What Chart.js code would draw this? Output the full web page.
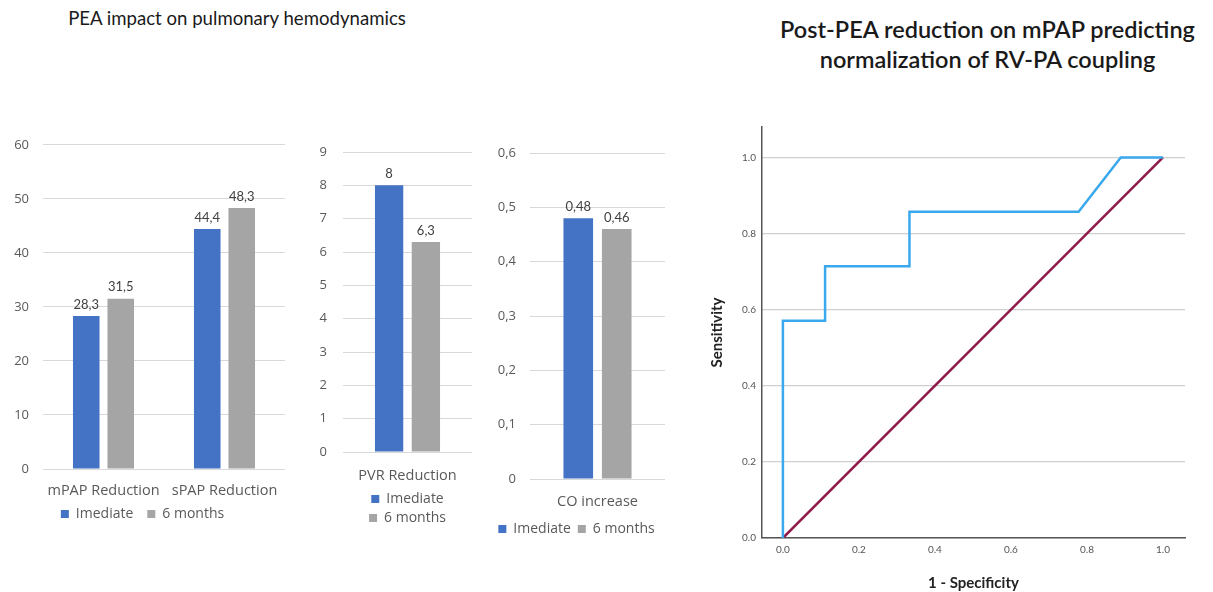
<!DOCTYPE html>
<html>
<head>
<meta charset="utf-8">
<script src="https://cdn.jsdelivr.net/npm/chart.js@4.4.0/dist/chart.umd.min.js"></script>
<style>
  html, body { margin: 0; padding: 0; background: #ffffff; }
  body { width: 1213px; height: 592px; position: relative; overflow: hidden; font-family: Lato, "Open Sans", sans-serif; }
  .box { position: absolute; }
  .title { position: absolute; color: #1a1a1a; text-align: center; white-space: nowrap; }
</style>
</head>
<body>
<div class="title" id="t1" style="left:37px; top:3px; width:400px; font-size:18.6px; line-height:30px;">PEA impact on pulmonary hemodynamics</div>
<div class="title" id="t2" style="left:760px; top:14px; width:455px; font-size:23.5px; line-height:30px; font-weight:600;">Post-PEA reduction on mPAP predicting<br>normalization of RV-PA coupling</div>

<div class="box" style="left:0px; top:123px; width:295px; height:412px;"><canvas id="c1"></canvas></div>
<div class="box" style="left:305px; top:128px; width:175px; height:409px;"><canvas id="c2"></canvas></div>
<div class="box" style="left:488px; top:128px; width:190px; height:419px;"><canvas id="c3"></canvas></div>
<div class="box" style="left:700px; top:110px; width:513px; height:482px;"><canvas id="c4"></canvas></div>

<script>
// ---------- DATA ----------
const seriesNames = ["Imediate", "6 months"];

const pressureCategories = ["mPAP Reduction", "sPAP Reduction"];
const pressureImediate = [28.3, 44.4];
const pressure6Months = [31.5, 48.3];
const pressureTicks = [0, 10, 20, 30, 40, 50, 60];

const pvrCategories = ["PVR Reduction"];
const pvrImediate = [8];
const pvr6Months = [6.3];
const pvrTicks = [0, 1, 2, 3, 4, 5, 6, 7, 8, 9];

const coCategories = ["CO increase"];
const coImediate = [0.48];
const co6Months = [0.46];
const coTicks = [0, 0.1, 0.2, 0.3, 0.4, 0.5, 0.6];

const rocFpr = [0, 0, 0.111, 0.111, 0.333, 0.333, 0.778, 0.889, 1];
const rocTpr = [0, 0.571, 0.571, 0.714, 0.714, 0.857, 0.857, 1, 1];
const refFpr = [0, 1];
const refTpr = [0, 1];
const rocTicks = [0, 0.2, 0.4, 0.6, 0.8, 1.0];

// ---------- STYLE ----------
const BLUE = "#4472c4";
const GRAY = "#a5a5a5";
const TXT = "#595959";
const FONT = "Lato, 'Open Sans', sans-serif";
const FONT2 = "'Open Sans', Lato, sans-serif";

const fmtComma = v => {
  const n = Math.round(v * 1000) / 1000;
  return String(n).replace('.', ',');
};

const valueLabels = {
  id: 'valueLabels',
  afterDatasetsDraw(chart) {
    const ctx = chart.ctx;
    ctx.save();
    ctx.font = "13px " + FONT;
    ctx.fillStyle = "#404040";
    ctx.textAlign = "center";
    ctx.textBaseline = "bottom";
    chart.data.datasets.forEach((ds, i) => {
      const meta = chart.getDatasetMeta(i);
      meta.data.forEach((el, j) => {
        ctx.fillText(fmtComma(ds.data[j]), el.x, el.y - 5);
      });
    });
    ctx.restore();
  }
};

function barChart(id, cats, a, b, ticks, opts) {
  const maxV = ticks[ticks.length - 1];
  const step = ticks[1] - ticks[0];
  return new Chart(document.getElementById(id), {
    type: 'bar',
    data: {
      labels: cats,
      datasets: [
        { label: seriesNames[0], data: a, backgroundColor: BLUE, categoryPercentage: 0.57, barPercentage: 0.77 },
        { label: seriesNames[1], data: b, backgroundColor: GRAY, categoryPercentage: 0.57, barPercentage: 0.77 }
      ]
    },
    options: {
      responsive: true,
      maintainAspectRatio: false,
      animation: false,
      layout: { padding: { top: opts.top, right: opts.right, left: 0, bottom: opts.bottom } },
      plugins: {
        tooltip: { enabled: false },
        legend: {
          position: 'bottom',
          fullSize: opts.fullSize,
          labels: {
            boxWidth: 8, boxHeight: 8, color: TXT, font: { family: FONT2, size: 14 }, padding: opts.legendPad,
            generateLabels: chart => {
              const items = Chart.defaults.plugins.legend.labels.generateLabels(chart);
              if (opts.gap) items.forEach((it, k) => { if (k < items.length - 1) it.text = it.text + opts.gap; });
              return items;
            }
          }
        }
      },
      scales: {
        x: {
          grid: { display: false },
          border: { display: false },
          ticks: { color: TXT, font: { family: FONT2, size: 14.5 }, padding: opts.xpad, maxRotation: 0 },
          afterFit: s => { s.height = opts.xh; }
        },
        y: {
          min: 0, max: maxV,
          ticks: {
            stepSize: step, color: TXT, font: { family: FONT2, size: 13 }, padding: opts.ypad,
            callback: v => fmtComma(v)
          },
          grid: { color: "#d9d9d9", drawTicks: false, lineWidth: 1 },
          border: { display: false },
          afterFit: s => { s.width = opts.yw; }
        }
      }
    },
    plugins: [valueLabels]
  });
}

barChart('c1', pressureCategories, pressureImediate, pressure6Months, pressureTicks,
  { top: 15, right: 10, bottom: 4, yw: 43, ypad: 14, xh: 31, xpad: 5, legendPad: 7, fullSize: true, gap: '\u2002' });
barChart('c2', pvrCategories, pvrImediate, pvr6Months, pvrTicks,
  { top: 24, right: 8, bottom: 2, yw: 38, ypad: 16, xh: 35, xpad: 7, legendPad: 5, fullSize: false, gap: '' });
barChart('c3', coCategories, coImediate, co6Months, coTicks,
  { top: 25, right: 13, bottom: 1, yw: 42, ypad: 14, xh: 36, xpad: 6, legendPad: 7, fullSize: true, gap: '' });

// ROC chart
const setTicks = s => { s.ticks = rocTicks.map(v => ({ value: v })); };
new Chart(document.getElementById('c4'), {
  type: 'line',
  data: {
    datasets: [
      { label: 'ROC', data: rocFpr.map((x, i) => ({ x: x, y: rocTpr[i] })), borderColor: "#3aa8ec", borderWidth: 2.5, pointRadius: 0, tension: 0, fill: false },
      { label: 'Reference', data: refFpr.map((x, i) => ({ x: x, y: refTpr[i] })), borderColor: "#8e1b4c", borderWidth: 2.5, pointRadius: 0, tension: 0, fill: false }
    ]
  },
  options: {
    responsive: true,
    maintainAspectRatio: false,
    animation: false,
    layout: { padding: { top: 17, right: 28, left: 0, bottom: 0 } },
    plugins: { legend: { display: false }, tooltip: { enabled: false } },
    scales: {
      x: {
        type: 'linear', min: -0.055, max: 1.058,
        ticks: { color: "#555", font: { family: FONT, size: 10 }, padding: 6, callback: v => Number(v).toFixed(1) },
        afterBuildTicks: setTicks,
        grid: { display: false, drawTicks: false },
        border: { display: true, color: "#555", width: 1.5 },
        title: { display: true, text: '1 - Specificity', color: "#222", font: { family: FONT, size: 15, weight: 'bold' }, padding: { top: 4, bottom: 0 } },
        afterFit: s => { s.height = 54; }
      },
      y: {
        type: 'linear', min: 0, max: 1.08,
        ticks: { color: "#555", font: { family: FONT, size: 10 }, padding: 6, callback: v => Number(v).toFixed(1) },
        afterBuildTicks: setTicks,
        grid: { color: "#cfcfcf", drawTicks: false, lineWidth: 1.2 },
        border: { display: true, color: "#555", width: 1.5 },
        title: { display: true, text: 'Sensitivity', color: "#222", font: { family: FONT, size: 15, weight: 'bold' }, padding: { top: 8, bottom: 4 } },
        afterFit: s => { s.width = 62; }
      }
    }
  }
});
</script>
</body>
</html>
